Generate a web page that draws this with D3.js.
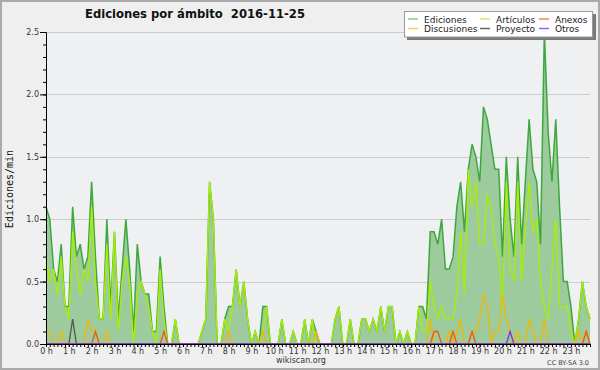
<!DOCTYPE html>
<html>
<head>
<meta charset="utf-8">
<script src="https://cdn.jsdelivr.net/npm/d3@7"></script>
<style>
  body { margin: 0; background: #efefef; }
  svg { display: block; font-family: "DejaVu Sans", sans-serif; }
</style>
</head>
<body>
<svg id="chart" width="600" height="370"></svg>
<script>
// one value every 10 minutes, 144 per day (ediciones / min)
const hourLabels = d3.range(24).map(h => h + " h");
const yTicks = [0, 0.5, 1.0, 1.5, 2.0, 2.5];

const ediciones = [
  1.1,1.0,0.6,0.5,0.8,0.3,0.3,1.1,0.7,0.8,0.6,0.7,
  1.3,0.7,0.2,0.2,1.0,0.3,0.9,0.2,0.6,1.0,0.6,0.1,
  0.8,0.5,0.4,0.4,0.1,0.1,0.7,0.3,0,0,0.2,0,
  0,0,0,0,0,0.1,0.2,1.3,1.0,0,0,0.2,
  0.3,0.3,0.6,0.3,0.5,0.2,0,0.1,0,0.3,0.3,0,
  0,0,0.2,0,0,0.1,0,0,0.2,0,0.2,0.1,
  0,0,0,0,0.2,0.3,0,0,0.2,0,0,0.2,
  0.2,0.1,0.2,0.1,0.3,0.1,0.3,0.3,0,0.1,0,0.1,
  0,0,0.3,0.3,0.2,0.9,0.9,0.8,1.0,0.6,0.6,0.7,
  1.1,1.3,0.9,1.4,1.6,1.5,1.3,1.9,1.8,1.6,1.4,1.4,
  0.7,1.5,1.0,0.7,1.5,0.8,1.3,1.8,1.4,1.3,0.8,2.5,
  1.7,1.3,1.8,1.1,0.5,0.5,0.3,0,0.2,0.5,0.3,0.2
];
const articulos = [
  0.7,0.5,0.6,0.4,0.7,0.3,0.2,0.9,0.6,0.4,0.6,0.5,
  1.1,0.5,0.2,0.2,0.8,0.2,0.9,0.1,0.5,0.7,0.5,0,
  0.4,0.5,0.4,0.3,0.1,0,0.6,0.2,0,0,0.2,0,
  0,0,0,0,0,0.1,0.2,1.3,1.0,0,0,0.2,
  0.1,0.3,0.6,0.3,0.5,0.2,0,0.1,0,0.1,0.3,0,
  0,0,0.2,0,0,0.1,0,0,0.2,0,0.2,0,
  0,0,0,0,0.2,0.3,0,0,0.2,0,0,0.2,
  0.2,0.1,0.2,0.1,0.3,0.1,0.3,0.3,0,0.1,0,0.1,
  0,0,0.3,0.1,0.1,0.5,0.3,0.2,0.3,0.2,0.2,0.2,
  0.4,0.9,0.4,1.4,1.1,1.3,0.8,0.8,1.2,1.1,0.8,0.7,
  0.3,1.3,0.6,0.5,1.3,0.5,0.9,1.3,0.9,1.0,0.5,0.3,
  0.2,0.6,1.0,0.3,0.3,0.3,0.1,0,0.2,0.5,0.3,0.2
];
const discusiones = [
  0.1,0.1,0,0,0.1,0,0,0,0,0,0,0.2,
  0.1,0.1,0,0,0.1,0,0,0,0,0,0,0,
  0,0,0,0,0,0,0,0,0,0,0,0,
  0,0,0,0,0,0,0,0,0,0,0,0,
  0.1,0,0,0,0,0,0,0,0,0.1,0,0,
  0,0,0,0,0,0,0,0,0,0,0,0.1,
  0,0,0,0,0,0,0,0,0,0,0,0,
  0,0,0,0,0,0,0,0,0,0,0,0,
  0,0,0,0,0,0.2,0,0,0,0,0.1,0,
  0.1,0.2,0,0,0.1,0.1,0.2,0.4,0.3,0,0.1,0.1,
  0.4,0.2,0.1,0,0.1,0,0,0.2,0.1,0,0,0.2,
  0,0,0,0,0,0,0,0,0.1,0,0.1,0
];
const anexos = [
  0,0,0,0,0,0,0,0,0,0,0,0,
  0,0.1,0,0,0,0,0,0,0,0,0,0,
  0,0,0,0,0,0,0,0.1,0,0,0,0,
  0,0,0,0,0,0,0,0,0,0,0,0,
  0,0,0,0,0,0,0,0,0,0,0,0,
  0,0,0,0,0,0,0,0,0,0,0,0,
  0,0,0,0,0,0,0,0,0,0,0,0,
  0,0,0,0,0,0,0,0,0,0,0,0,
  0,0,0,0,0,0,0.1,0.1,0,0,0,0.1,
  0,0,0,0,0.1,0,0,0,0,0,0,0,
  0,0,0,0,0,0,0,0,0,0,0,0,
  0,0,0,0,0,0,0,0,0,0,0.1,0
];
const proyecto = [
  0,0,0,0,0,0,0,0.2,0,0,0,0,
  ...Array(132).fill(0)
];
const otros = [
  ...Array(122).fill(0),
  0.1,
  ...Array(21).fill(0)
];

const series = [
  { name: "Artículos", values: articulos, color: "#aaee00", legend: "#ccf066" },
  { name: "Discusiones", values: discusiones, color: "#f2b705", legend: "#f8d050" },
  { name: "Anexos", values: anexos, color: "#ee5a10", legend: "#f08850" },
  { name: "Proyecto", values: proyecto, color: "#555555", legend: "#666666" },
  { name: "Otros", values: otros, color: "#8030e0", legend: "#a060f0" }
];

const svg = d3.select("#chart");

const x = d3.scaleLinear().domain([0, 143]).range([46, 590]);
const y = d3.scaleLinear().domain([0, 2.5]).range([344, 32]);

// frame
svg.append("rect")
  .attr("x", 1).attr("y", 1).attr("width", 598).attr("height", 368)
  .attr("fill", "#efefef").attr("stroke", "#aaaaaa").attr("stroke-width", 2);

svg.append("rect")
  .attr("x", x(0)).attr("y", y(2.5))
  .attr("width", x(143) - x(0)).attr("height", y(0) - y(2.5))
  .attr("fill", "#eef0f2");

// grid
svg.append("g")
  .selectAll("line")
  .data(yTicks.slice(1))
  .join("line")
  .attr("x1", x(0)).attr("x2", x(143))
  .attr("y1", d => Math.round(y(d)) + 0.5).attr("y2", d => Math.round(y(d)) + 0.5)
  .attr("stroke", "#cccccc");

// area of total edits
const idx = d3.range(ediciones.length);
svg.append("path")
  .datum(idx)
  .attr("fill", "#9dcb9d")
  .attr("d", d3.area().x(i => x(i)).y0(y(0)).y1(i => y(ediciones[i])));

svg.append("path")
  .datum(idx)
  .attr("fill", "none")
  .attr("stroke", "#3da83d")
  .attr("stroke-width", 1.5)
  .attr("d", d3.line().x(i => x(i)).y(i => y(ediciones[i])));

series.forEach(s => {
  svg.append("path")
    .datum(idx)
    .attr("fill", "none")
    .attr("stroke", s.color)
    .attr("stroke-width", 1.3)
    .attr("d", d3.line().x(i => x(i)).y(i => y(s.values[i])));
});

// axes
svg.append("g")
  .attr("transform", `translate(${x(0)},0)`)
  .call(d3.axisLeft(y).tickValues(yTicks).tickSize(6).tickPadding(1).tickFormat(d3.format(".1f")));
svg.append("g")
  .attr("transform", `translate(${x(0)},0)`)
  .call(d3.axisLeft(y).tickValues(d3.range(0, 26).map(d => d / 10)).tickSize(3).tickFormat(""))
  .select(".domain").remove();

svg.append("g")
  .attr("transform", `translate(0,${y(0)})`)
  .call(d3.axisBottom(x).tickValues(idx).tickSize(3).tickSizeOuter(0).tickFormat(""));
svg.append("g")
  .attr("transform", `translate(0,${y(0)})`)
  .call(d3.axisBottom(x).tickValues(d3.range(0, 144, 6)).tickSize(3).tickPadding(1)
    .tickFormat((d, i) => hourLabels[i]))
  .select(".domain").remove();

svg.selectAll(".tick text")
  .attr("fill", "#333")
  .style("font-size", "8px")
  .style("font-family", "DejaVu Sans, sans-serif");

// title and labels
svg.append("text")
  .attr("x", 85).attr("y", 18)
  .style("font-size", "11.6px").style("font-weight", "bold")
  .style("white-space", "pre")
  .attr("fill", "#111")
  .text("Ediciones por ámbito  2016-11-25");

svg.append("text")
  .attr("transform", "translate(13,189) rotate(-90)")
  .attr("text-anchor", "middle")
  .style("font-family", "DejaVu Sans Mono, monospace")
  .style("font-size", "10px")
  .attr("fill", "#111")
  .text("Ediciones/min");

svg.append("text")
  .attr("x", 301).attr("y", 363)
  .attr("text-anchor", "middle")
  .style("font-size", "8px").attr("fill", "#333")
  .text("wikiscan.org");

svg.append("text")
  .attr("x", 589).attr("y", 365)
  .attr("text-anchor", "end")
  .style("font-size", "6.5px").attr("fill", "#444")
  .text("CC BY-SA 3.0");

// legend
const legend = svg.append("g");
legend.append("rect")
  .attr("x", 407).attr("y", 14).attr("width", 189).attr("height", 26)
  .attr("fill", "#7a7a7a");
legend.append("rect")
  .attr("x", 404.5).attr("y", 11.5).attr("width", 188).attr("height", 25.5)
  .attr("fill", "#ffffff").attr("stroke", "#999999");

const colX = [408, 480, 539];
const rowY = [19, 28.5];
// row1 Ediciones, Artículos, Anexos / row2 Discusiones, Proyecto, Otros
const layout = [
  { item: { name: "Ediciones", legend: "#88cc88" }, c: 0, r: 0 },
  { item: series[0], c: 1, r: 0 },
  { item: series[2], c: 2, r: 0 },
  { item: series[1], c: 0, r: 1 },
  { item: series[3], c: 1, r: 1 },
  { item: series[4], c: 2, r: 1 }
];
const li = legend.selectAll("g.item")
  .data(layout)
  .join("g")
  .attr("class", "item")
  .attr("transform", d => `translate(${colX[d.c]},${rowY[d.r]})`);
li.append("line")
  .attr("x1", 0).attr("x2", 10)
  .attr("stroke", d => d.item.legend).attr("stroke-width", 1.5);
li.append("text")
  .attr("x", 16).attr("y", 3.5)
  .style("font-size", "9px").attr("fill", "#222")
  .text(d => d.item.name);
</script>
</body>
</html>
